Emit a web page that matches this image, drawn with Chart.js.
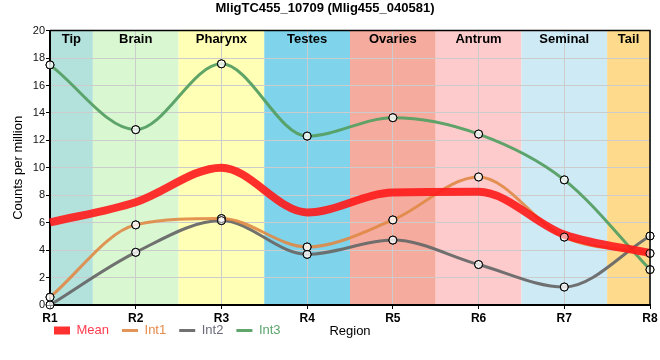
<!DOCTYPE html>
<html>
<head>
<meta charset="utf-8">
<script src="https://cdn.jsdelivr.net/npm/chart.js@4/dist/chart.umd.min.js"></script>
<style>
html,body{margin:0;padding:0;background:#fff;}
canvas{display:block;}
</style>
</head>
<body>
<canvas id="c" width="660" height="360"></canvas>
<script>
const categories = ['R1','R2','R3','R4','R5','R6','R7','R8'];
const regionNames = ['Tip','Brain','Pharynx','Testes','Ovaries','Antrum','Seminal','Tail'];
const regionColors = ['#b3e2dd','#d9f7d1','#ffffb5','#7fd3ea','#f5ab9d','#fdcbcb','#ceeaf5','#fedb8c'];
const meanValues = [6.02, 7.49, 10.01, 6.75, 8.20, 8.25, 5.13, 3.79];
const int1Values = [0.57, 5.84, 6.30, 4.23, 6.20, 9.33, 4.95, 3.76];
const int2Values = [0.00, 3.84, 6.15, 3.69, 4.73, 2.95, 1.31, 5.03];
const int3Values = [17.50, 12.78, 17.58, 12.31, 13.65, 12.46, 9.12, 2.58];
const seriesNames = ['Mean','Int1','Int2','Int3'];
const seriesColors = ['rgba(255,25,25,0.9)','rgba(224,136,70,0.9)','rgba(105,105,105,0.95)','rgba(86,160,100,0.95)'];
const legendTextColors = ['#ff3b4e','#e6894a','#6a6a7a','#5da56e'];
const lineWidths = [8, 3, 3, 3];

const FONT = "'Liberation Sans', Arial, sans-serif";

const bandsPlugin = {
  id: 'bands',
  beforeDraw(chart) {
    const {ctx, chartArea, scales} = chart;
    const x = scales.x;
    ctx.save();
    regionNames.forEach((name, i) => {
      const l = Math.max(chartArea.left, x.getPixelForValue(i - 0.5));
      const r = Math.min(chartArea.right, x.getPixelForValue(i + 0.5));
      ctx.fillStyle = regionColors[i];
      ctx.fillRect(l, chartArea.top, r - l, chartArea.bottom - chartArea.top);
    });
    ctx.restore();
  },
  beforeDatasetsDraw(chart) {
    const {ctx, chartArea, scales} = chart;
    const x = scales.x;
    ctx.save();
    ctx.font = "bold 13px " + FONT;
    ctx.fillStyle = '#000';
    ctx.textAlign = 'center';
    ctx.textBaseline = 'middle';
    regionNames.forEach((name, i) => {
      const l = Math.max(chartArea.left, x.getPixelForValue(i - 0.5));
      const r = Math.min(chartArea.right, x.getPixelForValue(i + 0.5));
      ctx.fillText(name, (l + r) / 2, chartArea.top + 9);
    });
    ctx.restore();
  },
  afterDatasetsDraw(chart) {
    const {ctx, chartArea} = chart;
    for (let i = 1; i < chart.data.datasets.length; i++) {
      const meta = chart.getDatasetMeta(i);
      meta.data.forEach(p => p.draw(ctx, chartArea));
    }
    ctx.save();
    ctx.strokeStyle = '#000';
    ctx.lineWidth = 1.5;
    ctx.beginPath();
    ctx.moveTo(chartArea.left, chartArea.top);
    ctx.lineTo(chartArea.right, chartArea.top);
    ctx.lineTo(chartArea.right, chartArea.bottom);
    ctx.stroke();
    ctx.restore();
  },
  afterDraw(chart) {
    const {ctx, chartArea} = chart;
    ctx.save();
    ctx.font = "13px " + FONT;
    ctx.fillStyle = '#000';
    ctx.textAlign = 'center';
    ctx.textBaseline = 'middle';
    ctx.fillText('Region', (chartArea.left + chartArea.right) / 2, 331);
    ctx.restore();
  }
};

const legendShift = {
  id: 'legendShift',
  beforeDraw(chart) {
    if (chart.legend) {
      chart.legend.left = 41;
      chart.legend.top = 311;
    }
  }
};

const seriesData = [meanValues, int1Values, int2Values, int3Values];
const datasets = seriesData.map((vals, i) => ({
  label: seriesNames[i],
  data: vals,
  borderColor: seriesColors[i],
  backgroundColor: seriesColors[i],
  borderWidth: lineWidths[i],
  cubicInterpolationMode: 'monotone',
  pointRadius: i === 0 ? 0 : 4,
  pointHoverRadius: i === 0 ? 0 : 4,
  pointBackgroundColor: 'rgba(255,255,255,0.55)',
  pointBorderColor: '#000',
  pointBorderWidth: 1,
  fill: false
}));

new Chart(document.getElementById('c'), {
  type: 'line',
  data: { labels: categories, datasets },
  options: {
    responsive: false,
    animation: false,
    events: [],
    layout: { padding: { left: 0, right: 10, top: 0, bottom: 0 } },
    plugins: {
      title: {
        display: true,
        text: 'MligTC455_10709 (Mlig455_040581)',
        color: '#000',
        font: { family: FONT, size: 13, weight: 'bold' },
        padding: { top: 1, bottom: 14 }
      },
      legend: {
        position: 'bottom',
        align: 'start',
        labels: {
          usePointStyle: true,
          pointStyle: 'line',
          pointStyleWidth: 16,
          padding: 13,
          font: { family: FONT, size: 13 },
          generateLabels(chart) {
            const items = Chart.defaults.plugins.legend.labels.generateLabels(chart);
            items.forEach((it, i) => {
              it.fontColor = legendTextColors[i];
              it.pointStyle = 'line';
              it.strokeStyle = seriesColors[i];
              it.fillStyle = seriesColors[i];
              it.lineWidth = lineWidths[i];
              it.lineCap = 'butt';
            });
            return items;
          }
        }
      },
      tooltip: { enabled: false }
    },
    scales: {
      x: {
        offset: false,
        afterFit(scale) { scale.height = 19; },
        grid: { color: '#cccccc', lineWidth: 1, tickColor: '#000', tickLength: 4 },
        border: { color: '#000', width: 2 },
        ticks: { color: '#000', padding: 2, font: { family: FONT, size: 12, weight: 'bold' }, maxRotation: 0 }
      },
      y: {
        min: 0,
        max: 20,
        afterFit(scale) { scale.width = 50; },
        grid: { color: '#cccccc', lineWidth: 1, tickColor: '#000', tickLength: 4 },
        border: { color: '#000', width: 2 },
        ticks: { stepSize: 2, color: '#111', padding: 1, font: { family: FONT, size: 11 } },
        title: {
          display: true,
          text: 'Counts per million',
          color: '#000',
          font: { family: FONT, size: 13 },
          padding: { top: 11, bottom: 0 }
        }
      }
    }
  },
  plugins: [bandsPlugin, legendShift]
});
</script>
</body>
</html>
